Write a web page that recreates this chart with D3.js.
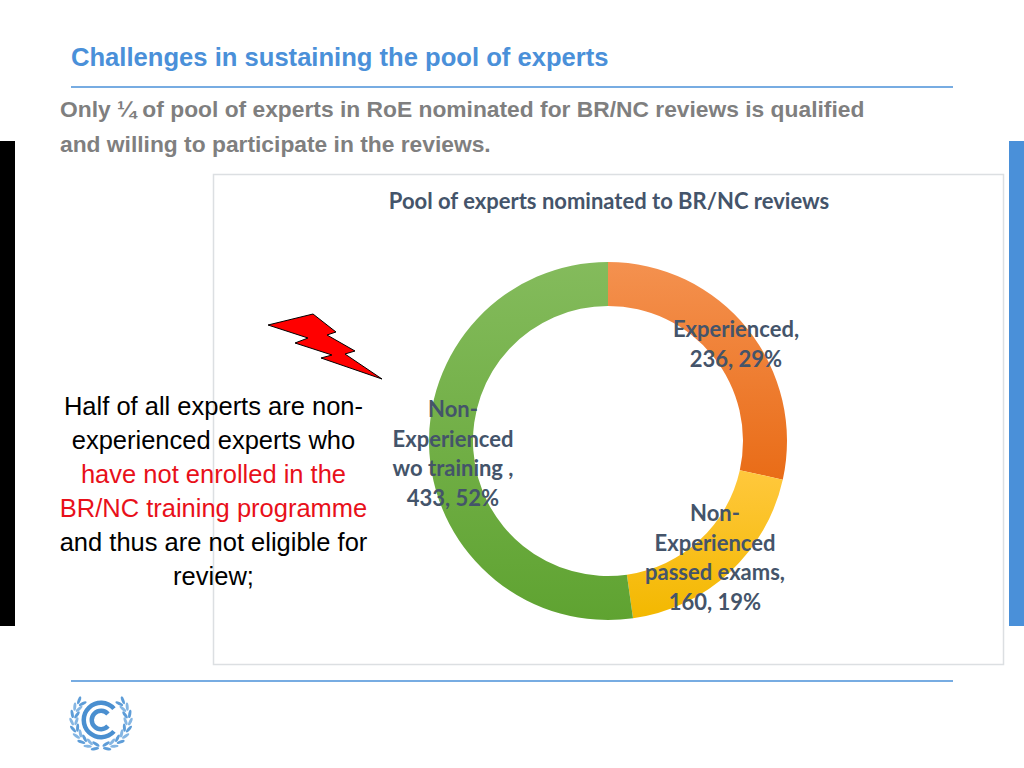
<!DOCTYPE html>
<html>
<head>
<meta charset="utf-8">
<script src="https://cdn.jsdelivr.net/npm/d3@7"></script>
<style>
  html, body { margin: 0; padding: 0; background: #fff; }
  svg { display: block; }
  text { font-family: "Liberation Sans", Arial, sans-serif; }
  .lbl { font-family: Lato, "Open Sans", sans-serif; font-weight: 700; font-size: 22px; fill: #44546a; text-anchor: middle; }
</style>
</head>
<body>
<svg id="chart" width="1024" height="768"></svg>
<script>
var chartTitle = 'Pool of experts nominated to BR/NC reviews';
var categories = ['Experienced', 'Non-Experienced passed exams', 'Non-Experienced wo training'];
var values = [236, 160, 433];
var percents = [29, 19, 52];
var gradientTop = ['#f4914f', '#ffc83d', '#84bb5c'];
var gradientBottom = ['#e96c17', '#f3b800', '#5fa331'];

var labelLines = [
  ['Experienced,', '236, 29%'],
  ['Non-', 'Experienced', 'passed exams,', '160, 19%'],
  ['Non-', 'Experienced', 'wo training ,', '433, 52%']
];

var noteLines = [
  { text: 'Half of all experts are non-', color: '#000' },
  { text: 'experienced experts who', color: '#000' },
  { text: 'have not enrolled in the', color: '#e8101a' },
  { text: 'BR/NC training programme', color: '#e8101a' },
  { text: 'and thus are not eligible for', color: '#000' },
  { text: 'review;', color: '#000' }
];

var svg = d3.select('#chart');
var blue = '#4a90d9';

// slide furniture
svg.append('rect').attr('x', 0).attr('y', 141).attr('width', 15).attr('height', 485).attr('fill', '#000');
svg.append('rect').attr('x', 1009).attr('y', 141).attr('width', 15).attr('height', 485).attr('fill', blue);
svg.append('line').attr('x1', 71).attr('x2', 953).attr('y1', 87).attr('y2', 87).attr('stroke', blue).attr('stroke-width', 1.5);
svg.append('line').attr('x1', 71).attr('x2', 953).attr('y1', 681).attr('y2', 681).attr('stroke', blue).attr('stroke-width', 1.5);

svg.append('text').attr('x', 71).attr('y', 66)
  .attr('font-size', 25.6).attr('font-weight', 700).attr('fill', blue)
  .text('Challenges in sustaining the pool of experts');

svg.selectAll('.sub').data([
  'Only \u00BC of pool of experts in RoE nominated for BR/NC reviews is qualified',
  'and willing to participate in the reviews.'
]).enter().append('text').attr('class', 'sub')
  .attr('x', 60)
  .attr('y', function(d, i) { return 117 + i * 34.5; })
  .attr('font-size', 22.8).attr('font-weight', 700).attr('fill', '#7f7f7f')
  .text(function(d) { return d; });

// chart frame
svg.append('rect').attr('x', 213.5).attr('y', 174.5).attr('width', 790).attr('height', 490)
  .attr('fill', '#fff').attr('stroke', '#dcdfe2').attr('stroke-width', 1.5);

svg.append('text').attr('x', 609).attr('y', 209)
  .attr('class', 'lbl')
  .text(chartTitle);

// donut
var cx = 608, cy = 441, outerR = 179, innerR = 135;
var pie = d3.pie().sort(null).value(function(d) { return d; });
var arc = d3.arc().innerRadius(innerR).outerRadius(outerR);
var arcs = pie(values);

var defs = svg.append('defs');
arcs.forEach(function(d, i) {
  var g = defs.append('linearGradient').attr('id', 'grad' + i)
    .attr('x1', 0).attr('x2', 0).attr('y1', 0).attr('y2', 1);
  g.append('stop').attr('offset', '0%').attr('stop-color', gradientTop[i]);
  g.append('stop').attr('offset', '100%').attr('stop-color', gradientBottom[i]);
});

var donut = svg.append('g').attr('transform', 'translate(' + cx + ',' + cy + ')');
donut.selectAll('path').data(arcs).enter().append('path')
  .attr('d', arc)
  .attr('fill', function(d, i) { return 'url(#grad' + i + ')'; });

// data labels, placed by hand like the original
var labelX = [736, 715, 453];
var labelTop = [337, 521, 417];
labelLines.forEach(function(lines, i) {
  svg.append('g').selectAll('text').data(lines).enter().append('text')
    .attr('class', 'lbl')
    .attr('x', labelX[i])
    .attr('y', function(d, j) { return labelTop[i] + j * 29.5; })
    .text(function(d) { return d; });
});

// note on the left
svg.selectAll('.note').data(noteLines).enter().append('text').attr('class', 'note')
  .attr('x', 213.5)
  .attr('y', function(d, i) { return 415 + i * 34; })
  .attr('text-anchor', 'middle')
  .attr('font-size', 25.5)
  .attr('fill', function(d) { return d.color; })
  .text(function(d) { return d.text; });

// lightning bolt
svg.append('polygon')
  .attr('points', '268,325 313,314 336,332 327,335 355,351 345,354 382,379 321,358 332,355 295,343 308,338')
  .attr('fill', '#ff0000').attr('stroke', '#000').attr('stroke-width', 1);

// UN climate logo
var logo = svg.append('g').attr('transform', 'translate(101,720)');
var gap = 0.72;
logo.append('path').attr('d', d3.arc().innerRadius(15).outerRadius(19.5).startAngle(Math.PI / 2 + gap).endAngle(Math.PI * 2.5 - gap)())
  .attr('fill', '#4a8fd0');
logo.append('path').attr('d', d3.arc().innerRadius(7).outerRadius(11.5).startAngle(Math.PI / 2 + gap).endAngle(Math.PI * 2.5 - gap)())
  .attr('fill', '#4a8fd0');

// wreath: pairs of leaves along an arc, mirrored left and right
[-1, 1].forEach(function(side) {
  d3.range(0, 9).forEach(function(k) {
    var deg = 48 + k * 15;
    var a = deg * Math.PI / 180;
    var r = 27;
    [-1, 1].forEach(function(o) {
      var x = side * (r + o * 2.4) * Math.sin(a);
      var y = 0 - (r + o * 2.4) * Math.cos(a);
      logo.append('ellipse')
        .attr('rx', 1.5).attr('ry', 4.2)
        .attr('fill', k % 2 ? '#85b6e3' : '#5e9dd8')
        .attr('transform', 'translate(' + x + ',' + y + ') rotate(' + side * (deg - 90 + o * 22) + ')');
    });
  });
});
</script>
</body>
</html>
